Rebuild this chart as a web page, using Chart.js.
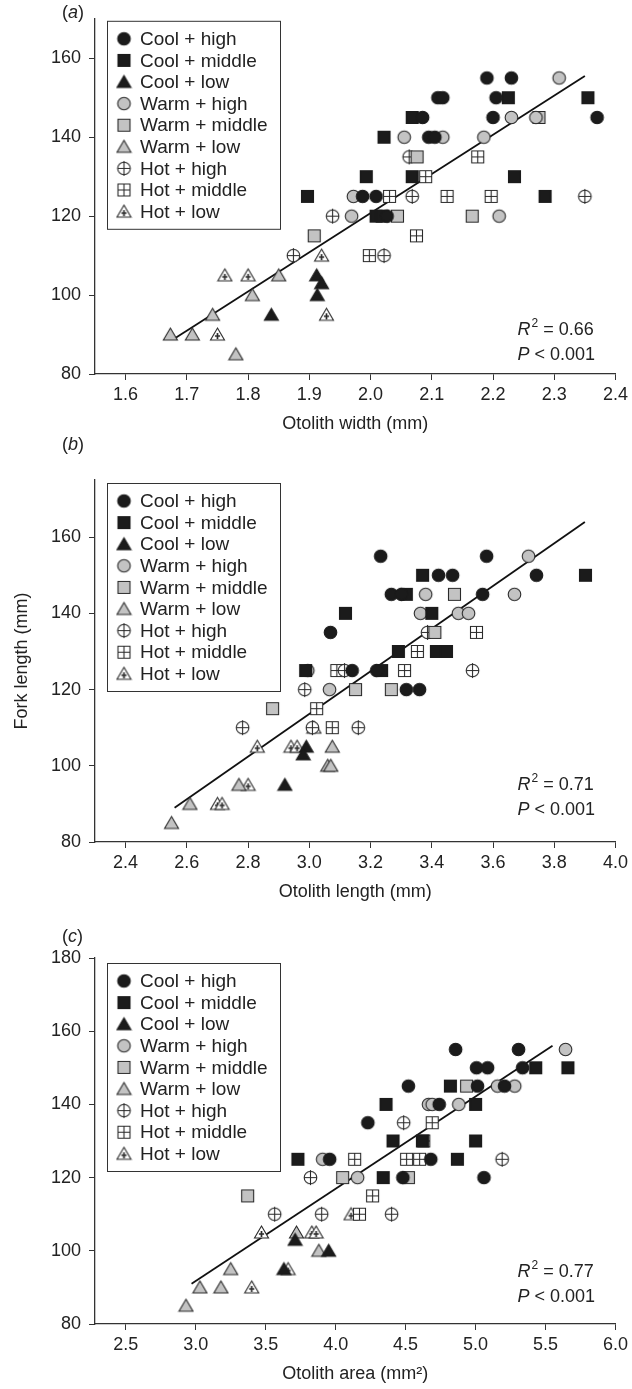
<!DOCTYPE html>
<html>
<head>
<meta charset="utf-8">
<script src="https://cdn.jsdelivr.net/npm/chart.js@4.4.1/dist/chart.umd.min.js"></script>
<style>
	html, body { margin: 0; padding: 0; background: #fff; overflow: hidden; }
	canvas { position: absolute; left: 0; }
</style>
</head>
<body>
<canvas id="chartA" width="632" height="435" style="top:0px"></canvas>
<canvas id="chartB" width="632" height="468" style="top:435px"></canvas>
<canvas id="chartC" width="632" height="482" style="top:903px"></canvas>
<script>
const groupLabels = [
	"Cool + high",
	"Cool + middle",
	"Cool + low",
	"Warm + high",
	"Warm + middle",
	"Warm + low",
	"Hot + high",
	"Hot + middle",
	"Hot + low",
];

// (a) otolith width (mm) vs fork length (mm)
const widthCoolHigh = [[1.987, 125], [2.009, 125], [2.027, 120], [2.085, 145], [2.095, 140], [2.105, 140], [2.11, 150], [2.118, 150], [2.2, 145], [2.205, 150], [2.19, 155], [2.23, 155], [2.37, 145]];
const widthCoolMiddle = [[1.897, 125], [1.993, 130], [2.009, 120], [2.019, 120], [2.022, 140], [2.068, 145], [2.068, 130], [2.235, 130], [2.285, 125], [2.225, 150], [2.355, 150]];
const widthCoolLow = [[1.838, 95], [1.912, 105], [1.92, 103], [1.913, 100]];
const widthWarmHigh = [[1.972, 125], [1.969, 120], [2.055, 140], [2.118, 140], [2.185, 140], [2.23, 145], [2.27, 145], [2.21, 120], [2.308, 155]];
const widthWarmMiddle = [[1.908, 115], [2.044, 120], [2.076, 135], [2.166, 120], [2.275, 145]];
const widthWarmLow = [[1.673, 90], [1.709, 90], [1.742, 95], [1.78, 85], [1.807, 100], [1.85, 105]];
const widthHotHigh = [[1.874, 110], [1.938, 120], [2.022, 110], [2.063, 135], [2.068, 125], [2.35, 125]];
const widthHotMiddle = [[1.998, 110], [2.031, 125], [2.075, 115], [2.09, 130], [2.175, 135], [2.125, 125], [2.197, 125]];
const widthHotLow = [[1.75, 90], [1.762, 105], [1.8, 105], [1.92, 110], [1.928, 95]];
const widthFit = [[1.68, 89], [2.35, 155.5]];

// (b) otolith length (mm) vs fork length (mm)
const lengthCoolHigh = [[3.233, 155], [3.579, 155], [3.268, 145], [3.301, 145], [3.422, 150], [3.468, 150], [3.742, 150], [3.566, 145], [3.069, 135], [3.14, 125], [3.22, 125], [3.317, 120], [3.36, 120]];
const lengthCoolMiddle = [[3.118, 140], [3.37, 150], [3.902, 150], [3.317, 145], [3.4, 140], [3.291, 130], [3.415, 130], [3.448, 130], [2.988, 125], [3.236, 125]];
const lengthCoolLow = [[2.92, 95], [2.99, 105], [2.98, 103]];
const lengthWarmHigh = [[3.716, 155], [3.38, 145], [3.67, 145], [3.363, 140], [3.487, 140], [3.52, 140], [2.995, 125], [3.066, 120]];
const lengthWarmMiddle = [[3.474, 145], [3.41, 135], [3.151, 120], [3.268, 120], [2.88, 115]];
const lengthWarmLow = [[2.55, 85], [2.61, 90], [2.77, 95], [3.075, 105], [3.06, 100], [3.07, 100]];
const lengthHotHigh = [[2.782, 110], [2.985, 120], [3.01, 110], [3.115, 125], [3.16, 110], [3.386, 135], [3.533, 125]];
const lengthHotMiddle = [[3.024, 115], [3.075, 110], [3.09, 125], [3.311, 125], [3.353, 130], [3.546, 135]];
const lengthHotLow = [[2.7, 90], [2.715, 90], [2.8, 95], [2.83, 105], [2.94, 105], [2.96, 105], [3.015, 110]];
const lengthFit = [[2.56, 89], [3.9, 164]];

// (c) otolith area (mm2) vs fork length (mm)
const areaCoolHigh = [[4.857, 155], [5.307, 155], [5.007, 150], [5.086, 150], [5.336, 150], [4.52, 145], [5.014, 145], [5.207, 145], [4.74, 140], [4.23, 135], [3.957, 125], [4.68, 125], [4.48, 120], [5.06, 120]];
const areaCoolMiddle = [[5.43, 150], [5.66, 150], [4.82, 145], [4.36, 140], [5.0, 140], [4.41, 130], [4.62, 130], [5.0, 130], [3.73, 125], [4.87, 125], [4.34, 120]];
const areaCoolLow = [[3.63, 95], [3.71, 103], [3.95, 100]];
const areaWarmHigh = [[5.643, 155], [5.157, 145], [5.28, 145], [4.664, 140], [4.69, 140], [4.88, 140], [3.907, 125], [4.157, 120]];
const areaWarmMiddle = [[4.936, 145], [3.371, 115], [4.05, 120], [4.52, 120]];
const areaWarmLow = [[2.93, 85], [3.03, 90], [3.18, 90], [3.25, 95], [3.72, 105], [3.88, 100]];
const areaHotHigh = [[4.486, 135], [3.82, 120], [3.564, 110], [3.9, 110], [4.4, 110], [5.19, 125]];
const areaHotMiddle = [[4.69, 135], [4.136, 125], [4.507, 125], [4.6, 125], [4.63, 130], [4.264, 115], [4.17, 110]];
const areaHotLow = [[3.4, 90], [3.47, 105], [3.66, 95], [3.83, 105], [3.86, 105], [4.11, 110]];
const areaFit = [[2.97, 91], [5.55, 156]];

const font = "'Liberation Sans', Arial, sans-serif";
Chart.defaults.font.family = font;
Chart.defaults.color = "#222";

const black = "#1b1b1b";
const gray = "#c3c3c3";
const edge = "#2a2a2a";

// little canvases used as point styles (and in the legend)
function marker(shape, fill, line, extra) {
	const c = document.createElement("canvas");
	c.width = 17;
	c.height = 17;
	const g = c.getContext("2d");
	const m = 8.5;
	g.lineWidth = 1.1;
	g.fillStyle = fill;
	g.strokeStyle = line;
	g.beginPath();
	if (shape === "circle") g.arc(m, m, 6.3, 0, Math.PI * 2);
	else if (shape === "square") g.rect(m - 6, m - 6, 12, 12);
	else {
		g.moveTo(m, m - 6.5);
		g.lineTo(m + 7, m + 5.5);
		g.lineTo(m - 7, m + 5.5);
		g.closePath();
	}
	g.fill();
	g.stroke();
	g.beginPath();
	if (extra === "plus") {
		g.moveTo(m - 6.3, m); g.lineTo(m + 6.3, m);
		g.moveTo(m, m - 7.5); g.lineTo(m, m + 7.5);
	} else if (extra === "grid") {
		g.moveTo(m - 6, m); g.lineTo(m + 6, m);
		g.moveTo(m, m - 6); g.lineTo(m, m + 6);
	} else if (extra === "inner") {
		g.lineWidth = 1.7;
		g.moveTo(m - 2.6, m + 1.5); g.lineTo(m + 2.6, m + 1.5);
		g.moveTo(m, m - 1.5); g.lineTo(m, m + 4.5);
	}
	g.stroke();
	return c;
}

const markers = [
	marker("circle", black, black),
	marker("square", black, black),
	marker("triangle", black, black),
	marker("circle", gray, edge),
	marker("square", gray, edge),
	marker("triangle", gray, edge),
	marker("circle", "#fff", edge, "plus"),
	marker("square", "#fff", edge, "grid"),
	marker("triangle", "#fff", edge, "inner"),
];

const toPoints = (list) => list.map((p) => ({ x: p[0], y: p[1] }));

// legend box, panel letter and R2 / P text
const overlay = {
	id: "overlay",
	afterDraw(chart, args, opts) {
		const { ctx, chartArea } = chart;
		ctx.save();

		const left = chartArea.left + 12;
		const top = chartArea.top + opts.legendDy;
		ctx.fillStyle = "#fff";
		ctx.fillRect(left, top, 173, 208);
		ctx.strokeStyle = "#333";
		ctx.lineWidth = 1;
		ctx.strokeRect(left + 0.5, top + 0.5, 173, 208);
		ctx.font = "19px " + font;
		ctx.textBaseline = "middle";
		ctx.fillStyle = "#222";
		groupLabels.forEach((label, i) => {
			const y = top + 18 + i * 21.6;
			const mk = markers[i];
			ctx.drawImage(mk, left + 17 - mk.width / 2, y - mk.height / 2);
			ctx.fillText(label, left + 33, y + 1);
		});

		// panel letter
		ctx.font = "18px " + font;
		ctx.textBaseline = "middle";
		let x = 62;
		const ty = opts.tagY;
		ctx.fillText("(", x, ty);
		x += ctx.measureText("(").width;
		ctx.font = "italic 18px " + font;
		ctx.fillText(opts.tag, x, ty);
		x += ctx.measureText(opts.tag).width;
		ctx.font = "18px " + font;
		ctx.fillText(")", x, ty);

		// statistics
		const sx = chartArea.right - 98;
		const ry = chartArea.bottom + opts.statsDy[0];
		const py = chartArea.bottom + opts.statsDy[1];
		ctx.font = "italic 18px " + font;
		ctx.fillText("R", sx, ry);
		let w = ctx.measureText("R").width;
		ctx.font = "12px " + font;
		ctx.fillText("2", sx + w + 1, ry - 6);
		w += ctx.measureText("2").width + 1;
		ctx.font = "18px " + font;
		ctx.fillText(" = " + opts.r2, sx + w, ry);
		ctx.font = "italic 18px " + font;
		ctx.fillText("P", sx, py);
		w = ctx.measureText("P").width;
		ctx.font = "18px " + font;
		ctx.fillText(" < 0.001", sx + w, py);

		ctx.restore();
	},
};

function makeChart(id, groups, fit, opt) {
	const datasets = groups.map((list, i) => ({
		type: "scatter",
		label: groupLabels[i],
		data: toPoints(list),
		pointStyle: markers[i],
		pointRadius: 6,
		order: 1,
	}));
	datasets.push({
		type: "line",
		label: "fit",
		data: toPoints(fit),
		borderColor: "#111",
		borderWidth: 1.8,
		pointRadius: 0,
		fill: false,
		order: 5,
	});

	const tickFont = { size: 18, family: font };

	const config = {
		type: "scatter",
		data: { datasets },
		options: {
			responsive: false,
			animation: false,
			events: [],
			layout: { padding: { top: opt.padTop, right: 16, left: 0, bottom: 0 } },
			plugins: {
				legend: { display: false },
				tooltip: { enabled: false },
				overlay: opt.overlay,
			},
			scales: {
				x: {
					type: "linear",
					min: opt.xMin,
					max: opt.xMax,
					grid: { drawOnChartArea: false, drawTicks: true, tickLength: 6, color: "#333" },
					border: { color: "#333", width: 1.3 },
					ticks: {
						stepSize: opt.xStep,
						includeBounds: false,
						autoSkip: false,
						maxRotation: 0,
						padding: 4,
						font: tickFont,
						color: "#222",
						callback: (v) => v.toFixed(1),
					},
					title: { display: true, text: opt.xTitle, font: tickFont, color: "#222", padding: 0 },
					afterFit: (s) => { s.height = 61; },
				},
				y: {
					type: "linear",
					min: opt.yMin,
					max: opt.yMax,
					grid: { drawOnChartArea: false, drawTicks: true, tickLength: 6, color: "#333" },
					border: { color: "#333", width: 1.3 },
					ticks: {
						stepSize: 20,
						includeBounds: false,
						padding: 8,
						font: tickFont,
						color: "#222",
					},
					title: {
						display: !!opt.yTitle,
						text: opt.yTitle || "",
						font: tickFont,
						color: "#222",
						padding: { top: 11, bottom: 0 },
					},
					afterFit: (s) => { s.width = 95; },
				},
			},
		},
		plugins: [overlay],
	};

	return new Chart(document.getElementById(id), config);
}

makeChart(
	"chartA",
	[widthCoolHigh, widthCoolMiddle, widthCoolLow, widthWarmHigh, widthWarmMiddle, widthWarmLow, widthHotHigh, widthHotMiddle, widthHotLow],
	widthFit,
	{
		padTop: 12, xMin: 1.55, xMax: 2.4, xStep: 0.1, yMin: 80, yMax: 170,
		xTitle: "Otolith width (mm)",
		overlay: { tag: "a", tagY: 13, r2: "0.66", legendDy: 2, statsDy: [-44, -19] },
	}
);

makeChart(
	"chartB",
	[lengthCoolHigh, lengthCoolMiddle, lengthCoolLow, lengthWarmHigh, lengthWarmMiddle, lengthWarmLow, lengthHotHigh, lengthHotMiddle, lengthHotLow],
	lengthFit,
	{
		padTop: 45, xMin: 2.3, xMax: 4.0, xStep: 0.2, yMin: 80, yMax: 175,
		xTitle: "Otolith length (mm)", yTitle: "Fork length (mm)",
		overlay: { tag: "b", tagY: 10, r2: "0.71", legendDy: 3, statsDy: [-57, -32] },
	}
);

makeChart(
	"chartC",
	[areaCoolHigh, areaCoolMiddle, areaCoolLow, areaWarmHigh, areaWarmMiddle, areaWarmLow, areaHotHigh, areaHotMiddle, areaHotLow],
	areaFit,
	{
		padTop: 55, xMin: 2.28, xMax: 6.0, xStep: 0.5, yMin: 80, yMax: 180,
		xTitle: "Otolith area (mm²)",
		overlay: { tag: "c", tagY: 34, r2: "0.77", legendDy: 5, statsDy: [-52, -27] },
	}
);
</script>
</body>
</html>
